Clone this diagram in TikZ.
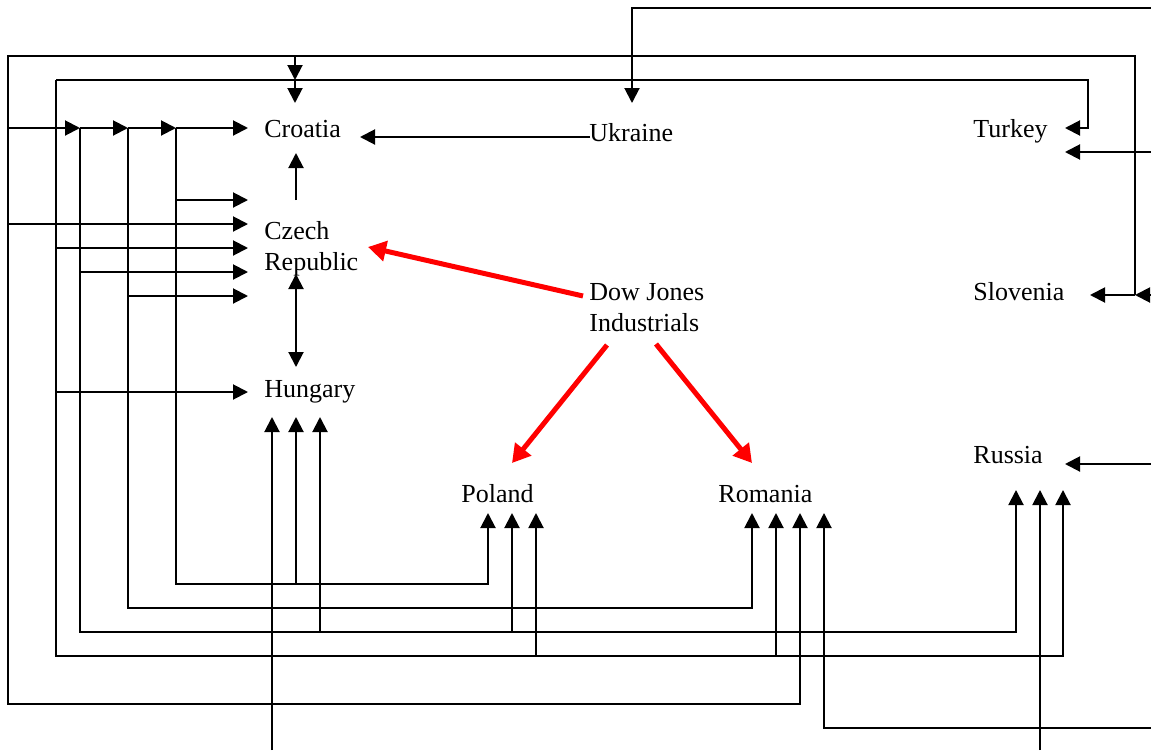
\documentclass[tikz,border=0pt]{standalone}
\usepackage{fontspec}
\setmainfont{Liberation Serif}
\usetikzlibrary{arrows.meta}
\begin{document}
\begin{tikzpicture}[x=0.5pt,y=-0.5pt,
  wire/.style={draw=black,line width=1pt},
  arr/.style={wire,-{Triangle[length=7.5pt,width=7.5pt]}},
  darr/.style={wire,{Triangle[length=7.5pt,width=7.5pt]}-{Triangle[length=7.5pt,width=7.5pt]}},
  redarr/.style={draw=red,line width=2.5pt,-{Triangle[length=9pt,width=10pt]}},
  lbl/.style={font=\fontsize{13pt}{15.5pt}\selectfont,inner sep=0pt,anchor=base west,align=left}]
\useasboundingbox (0,0) rectangle (1151,750);

% country nodes (base anchor = baseline of the last line)
\node[lbl] (croatia) at (264,137) {Croatia};
\node[lbl] (ukraine) at (589,141) {Ukraine};
\node[lbl] (turkey) at (973,137) {Turkey};
\node[lbl] (czech) at (264,270) {Czech\\Republic};
\node[lbl] (dow) at (589,331) {Dow Jones\\Industrials};
\node[lbl] (slovenia) at (973,300) {Slovenia};
\node[lbl] (hungary) at (264,397) {Hungary};
\node[lbl] (russia) at (973,463) {Russia};
\node[lbl] (poland) at (461,502) {Poland};
\node[lbl] (romania) at (718,502) {Romania};

% named points (arrow tips, junctions, free ends)
\foreach \n/\x/\y in {
  crL/248/128, crT/295/103, crB/296/153, crR/360/137,
  czL1/248/200, czL2/248/224, czL3/248/248, czL4/248/272, czL5/248/296,
  czB/296/274, czR/368/247, czTop/296/200,
  huL/248/392, huT/296/367, huB1/272/417, huB2/296/417, huB3/320/417,
  poT1/488/513, poT2/512/513, poT3/536/513, poR/512/463,
  roT1/752/513, roT2/776/513, roT3/800/513, roT4/824/513, roR/752/463,
  ruT1/1016/490, ruT2/1040/490, ruT3/1063/490, ruR/1065/464,
  tkT1/1065/128, tkT2/1065/152, slT/1090/295, ukT/632/103, ukL/590/137,
  dw1/583/296, dw2/607/345, dw3/656/344,
  e1/1151/8, e2/1151/295, e3/272/750, e4/1040/750, e5/1151/728,
  e6/1151/152, e7/1151/464,
  oJ/1135/295, oTL/8/56, oBR/800/704, oC/295/56, m80/295/80,
  j128a/8/128, j128b/80/128, j128c/128/128, j128d/176/128,
  s224/8/224, l2TL/56/80, l2TR/1088/128, l2BR/1063/656,
  s248/56/248, s392/56/392, s536/536/656, s776/776/656,
  b80/1016/632, s272/80/272, s320/320/632, s512/512/632,
  b128/752/608, s296/128/296,
  b176/488/584, s200/176/200, s296b/296/584}
  \coordinate (\n) at (\x,\y);

% Ukraine feed and Ukraine -> Croatia
\draw[arr] (e1) -| (ukT);
\draw[arr] (ukL) -- (crR);

% outer loop
\draw[arr] (e2) -- (oJ);
\draw[arr] (oJ) -- (slT);
\draw[arr] (oJ) |- (oTL) |- (oBR) -- (roT3);
\draw[arr] (oC) -- (m80);
\draw[arr] (m80) -- (crT);
\draw[arr] (j128a) -- (j128b);
\draw[arr] (j128b) -- (j128c);
\draw[arr] (j128c) -- (j128d);
\draw[arr] (j128d) -- (crL);
\draw[arr] (s224) -- (czL2);

% second loop
\draw[arr] (l2TL) -| (l2TR) -- (tkT1);
\draw[arr] (l2TL) |- (l2BR) -- (ruT3);
\draw[arr] (s248) -- (czL3);
\draw[arr] (s392) -- (huL);
\draw[arr] (s536) -- (poT3);
\draw[arr] (s776) -- (roT2);

% x=80 branch
\draw[arr] (j128b) |- (b80) -- (ruT1);
\draw[arr] (s272) -- (czL4);
\draw[arr] (s320) -- (huB3);
\draw[arr] (s512) -- (poT2);

% x=128 branch
\draw[arr] (j128c) |- (b128) -- (roT1);
\draw[arr] (s296) -- (czL5);

% x=176 branch
\draw[arr] (j128d) |- (b176) -- (poT1);
\draw[arr] (s200) -- (czL1);
\draw[arr] (s296b) -- (huB2);

% feeds from the edges
\draw[arr] (e3) -- (huB1);
\draw[arr] (e4) -- (ruT2);
\draw[arr] (e5) -| (roT4);
\draw[arr] (e6) -- (tkT2);
\draw[arr] (e7) -- (ruR);

% between neighbours
\draw[arr] (czTop) -- (crB);
\draw[darr] (czB) -- (huT);

% Dow Jones
\draw[redarr] (dw1) -- (czR);
\draw[redarr] (dw2) -- (poR);
\draw[redarr] (dw3) -- (roR);
\end{tikzpicture}
\end{document}
